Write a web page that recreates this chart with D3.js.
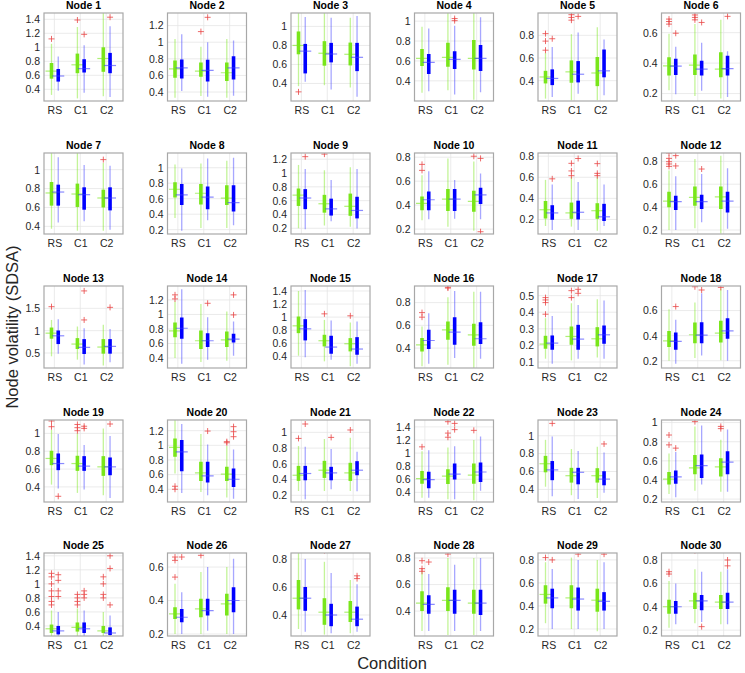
<!DOCTYPE html>
<html><head><meta charset="utf-8">
<script src="https://cdn.jsdelivr.net/npm/d3@7"></script>
<style>body{margin:0;background:#fff} text{font-family:"Liberation Sans",Arial,Helvetica,sans-serif}</style>
</head><body><svg id="c" width="745" height="673"></svg>
<script>
const conditions = ["RS","C1","C2"];
const nodeNames = d3.range(1,31).map(i=>"Node "+i);
const yDomains = [
 [0.233,1.49],[0.292,1.352],[0.216,1.141],[0.197,1.082],[0.221,0.997],[0.151,0.729],
 [0.319,1.176],[0.144,1.19],[0.117,1.29],[0.159,0.835],[0.062,0.83],[0.165,0.873],
 [0.164,2.0],[0.263,1.392],[0.222,1.476],[0.225,0.946],[0.064,0.558],[0.142,0.796],
 [0.231,1.15],[0.226,1.346],[0.115,1.157],[0.253,1.505],[0.259,1.176],[0.17,1.027],
 [0.257,1.44],[0.188,0.684],[0.25,0.843],[0.212,0.838],[0.139,0.86],[0.15,0.86]
];
const yTicks = [
 [0.4,0.6,0.8,1,1.2,1.4],[0.4,0.6,0.8,1,1.2],[0.4,0.6,0.8,1],[0.4,0.6,0.8,1],[0.4,0.6,0.8],[0.2,0.4,0.6],
 [0.4,0.6,0.8,1],[0.2,0.4,0.6,0.8,1],[0.2,0.4,0.6,0.8,1,1.2],[0.2,0.4,0.6,0.8],[0.2,0.4,0.6,0.8],[0.2,0.4,0.6,0.8],
 [0.5,1,1.5],[0.4,0.6,0.8,1,1.2],[0.4,0.6,0.8,1,1.2,1.4],[0.4,0.6,0.8],[0.1,0.2,0.3,0.4,0.5],[0.2,0.4,0.6],
 [0.4,0.6,0.8,1],[0.4,0.6,0.8,1,1.2],[0.2,0.4,0.6,0.8,1],[0.4,0.6,0.8,1,1.2,1.4],[0.4,0.6,0.8,1],[0.2,0.4,0.6,0.8,1],
 [0.4,0.6,0.8,1,1.2,1.4],[0.2,0.4,0.6],[0.4,0.6,0.8],[0.4,0.6,0.8],[0.2,0.4,0.6,0.8],[0.2,0.4,0.6,0.8]
];
// [whisker low, q1, median, q3, whisker high] for RS, C1, C2
const greenStats = [
 [[0.32,0.552,0.66,0.776,1.05],[0.27,0.63,0.75,0.91,1.29],[0.30,0.65,0.84,1.0,1.5]],
 [[0.332,0.572,0.68,0.78,1.04],[0.352,0.584,0.652,0.756,0.944],[0.332,0.532,0.632,0.756,1.04]],
 [[0.372,0.707,0.80,0.947,1.16],[0.382,0.587,0.718,0.845,1.16],[0.357,0.59,0.707,0.83,1.09]],
 [[0.279,0.548,0.625,0.72,0.944],[0.305,0.541,0.635,0.784,1.1],[0.21,0.515,0.625,0.81,1.1]],
 [[0.242,0.376,0.433,0.487,0.645],[0.227,0.382,0.478,0.579,0.81],[0.227,0.352,0.468,0.609,0.872]],
 [[0.222,0.318,0.382,0.438,0.593],[0.184,0.322,0.387,0.456,0.656],[0.167,0.307,0.36,0.471,0.684]],
 [[0.375,0.619,0.753,0.869,1.2],[0.354,0.605,0.742,0.852,1.2],[0.354,0.6,0.7,0.788,1.07]],
 [[0.35,0.615,0.722,0.812,1.04],[0.22,0.525,0.67,0.79,1.056],[0.22,0.52,0.606,0.773,1.09]],
 [[0.2,0.523,0.68,0.776,1.117],[0.24,0.426,0.555,0.684,1.04],[0.223,0.38,0.518,0.702,1.085]],
 [[0.274,0.358,0.415,0.473,0.65],[0.22,0.35,0.45,0.535,0.79],[0.186,0.345,0.432,0.52,0.765]],
 [[0.138,0.209,0.292,0.375,0.575],[0.132,0.206,0.262,0.36,0.6],[0.092,0.206,0.283,0.354,0.6]],
 [[0.2,0.398,0.453,0.535,0.72],[0.215,0.413,0.485,0.58,0.82],[0.17,0.383,0.49,0.58,0.85]],
 [[0.426,0.82,0.944,1.07,1.24],[0.352,0.589,0.7,0.833,1.093],[0.218,0.485,0.633,0.811,1.13]],
 [[0.4,0.688,0.775,0.889,1.18],[0.345,0.523,0.638,0.779,1.145],[0.363,0.551,0.651,0.766,1.04]],
 [[0.41,0.755,0.867,1.009,1.4],[0.324,0.552,0.639,0.73,0.958],[0.248,0.476,0.593,0.679,0.918]],
 [[0.24,0.371,0.429,0.488,0.59],[0.254,0.473,0.561,0.634,0.847],[0.22,0.42,0.517,0.613,0.896]],
 [[0.12,0.18,0.208,0.258,0.364],[0.11,0.204,0.254,0.314,0.454],[0.128,0.194,0.24,0.31,0.478]],
 [[0.2,0.309,0.359,0.438,0.61],[0.221,0.34,0.407,0.505,0.664],[0.203,0.346,0.42,0.518,0.777]],
 [[0.426,0.644,0.719,0.805,1.04],[0.333,0.58,0.662,0.749,1.0],[0.306,0.524,0.625,0.745,1.056]],
 [[0.615,0.843,0.971,1.095,1.346],[0.363,0.514,0.624,0.775,1.154],[0.286,0.514,0.606,0.706,0.99]],
 [[0.255,0.383,0.455,0.574,0.826],[0.255,0.421,0.519,0.638,0.915],[0.255,0.383,0.485,0.613,0.93]],
 [[0.316,0.532,0.611,0.726,1.026],[0.295,0.526,0.647,0.753,1.084],[0.279,0.532,0.663,0.842,1.2]],
 [[0.43,0.591,0.687,0.775,0.954],[0.335,0.476,0.553,0.641,0.851],[0.305,0.476,0.553,0.637,0.878]],
 [[0.253,0.353,0.41,0.483,0.677],[0.287,0.46,0.527,0.66,0.96],[0.277,0.437,0.537,0.627,0.82]],
 [[0.22,0.3,0.36,0.42,0.62],[0.24,0.32,0.38,0.45,0.65],[0.22,0.3,0.33,0.4,0.6]],
 [[0.2,0.29,0.32,0.36,0.5],[0.2,0.3,0.35,0.41,0.57],[0.2,0.31,0.38,0.44,0.6]],
 [[0.3,0.44,0.52,0.65,0.85],[0.26,0.33,0.42,0.52,0.78],[0.27,0.35,0.42,0.5,0.65]],
 [[0.25,0.4,0.46,0.55,0.7],[0.22,0.4,0.48,0.58,0.8],[0.22,0.38,0.46,0.56,0.8]],
 [[0.25,0.42,0.5,0.58,0.78],[0.2,0.38,0.47,0.58,0.82],[0.18,0.35,0.45,0.55,0.8]],
 [[0.22,0.34,0.4,0.46,0.62],[0.26,0.38,0.45,0.52,0.72],[0.25,0.38,0.44,0.5,0.7]]
];
const blueStats = [
 [[0.38,0.51,0.59,0.69,0.87],[0.35,0.64,0.695,0.83,1.03],[0.29,0.63,0.74,0.92,1.3]],
 [[0.412,0.564,0.69,0.792,1.096],[0.344,0.528,0.66,0.788,1.0],[0.356,0.552,0.69,0.832,1.02]],
 [[0.418,0.506,0.74,0.816,1.1],[0.336,0.622,0.71,0.827,1.09],[0.26,0.53,0.675,0.827,1.11]],
 [[0.295,0.469,0.585,0.669,0.925],[0.262,0.518,0.615,0.698,0.954],[0.285,0.498,0.625,0.76,1.04]],
 [[0.257,0.361,0.42,0.50,0.698],[0.286,0.385,0.457,0.573,0.824],[0.272,0.43,0.487,0.675,0.764]],
 [[0.196,0.322,0.38,0.429,0.507],[0.218,0.318,0.36,0.416,0.533],[0.178,0.318,0.364,0.449,0.478]],
 [[0.44,0.619,0.763,0.841,1.13],[0.453,0.576,0.735,0.813,1.05],[0.365,0.569,0.7,0.813,1.04]],
 [[0.187,0.517,0.65,0.79,0.99],[0.32,0.465,0.62,0.756,1.12],[0.256,0.435,0.55,0.773,1.13]],
 [[0.186,0.477,0.638,0.767,1.06],[0.3,0.384,0.481,0.629,0.9],[0.195,0.343,0.458,0.656,1.06]],
 [[0.282,0.358,0.445,0.514,0.683],[0.287,0.35,0.45,0.535,0.61],[0.282,0.41,0.486,0.546,0.664]],
 [[0.1,0.197,0.262,0.335,0.532],[0.1,0.2,0.268,0.378,0.554],[0.138,0.185,0.225,0.348,0.532]],
 [[0.2,0.375,0.448,0.5,0.669],[0.267,0.383,0.448,0.509,0.69],[0.21,0.354,0.453,0.535,0.74]],
 [[0.485,0.7,0.885,1.004,1.256],[0.24,0.478,0.626,0.811,1.056],[0.293,0.485,0.648,0.811,1.04]],
 [[0.322,0.665,0.81,0.958,1.346],[0.377,0.551,0.638,0.743,0.962],[0.432,0.615,0.66,0.734,0.903]],
 [[0.385,0.644,0.821,0.969,1.415],[0.349,0.44,0.542,0.715,0.948],[0.288,0.425,0.512,0.694,0.933]],
 [[0.263,0.391,0.467,0.561,0.707],[0.312,0.429,0.54,0.672,0.902],[0.307,0.435,0.482,0.628,0.896]],
 [[0.09,0.174,0.214,0.26,0.378],[0.12,0.174,0.238,0.324,0.444],[0.12,0.21,0.264,0.32,0.47]],
 [[0.176,0.287,0.354,0.425,0.526],[0.242,0.34,0.404,0.507,0.738],[0.2,0.375,0.438,0.539,0.764]],
 [[0.381,0.588,0.662,0.775,0.993],[0.37,0.58,0.633,0.745,0.869],[0.276,0.531,0.625,0.73,0.97]],
 [[0.35,0.647,0.912,1.072,1.29],[0.318,0.491,0.583,0.775,1.013],[0.272,0.432,0.537,0.683,0.944]],
 [[0.149,0.391,0.477,0.574,0.817],[0.277,0.391,0.485,0.562,0.787],[0.251,0.455,0.519,0.634,0.753]],
 [[0.316,0.463,0.595,0.716,1.042],[0.295,0.595,0.679,0.842,1.105],[0.426,0.558,0.711,0.858,1.253]],
 [[0.324,0.503,0.618,0.717,0.992],[0.293,0.457,0.591,0.641,0.828],[0.362,0.446,0.515,0.603,0.813]],
 [[0.22,0.36,0.433,0.5,0.693],[0.353,0.42,0.55,0.667,0.97],[0.277,0.46,0.587,0.7,0.927]],
 [[0.2,0.28,0.33,0.4,0.6],[0.22,0.3,0.36,0.45,0.62],[0.2,0.27,0.3,0.38,0.55]],
 [[0.2,0.27,0.3,0.35,0.45],[0.22,0.31,0.34,0.41,0.6],[0.2,0.33,0.4,0.48,0.65]],
 [[0.28,0.43,0.52,0.6,0.8],[0.27,0.32,0.4,0.48,0.7],[0.28,0.32,0.37,0.46,0.62]],
 [[0.25,0.38,0.45,0.52,0.68],[0.25,0.38,0.48,0.56,0.75],[0.25,0.37,0.46,0.56,0.8]],
 [[0.2,0.38,0.47,0.55,0.72],[0.2,0.36,0.46,0.56,0.8],[0.2,0.36,0.44,0.52,0.78]],
 [[0.25,0.34,0.4,0.45,0.6],[0.27,0.37,0.45,0.5,0.7],[0.25,0.38,0.44,0.52,0.72]]
];
const greenOutliers = [
 [[1.12],[1.39],[]],[[],[1.128],[]],[[0.312],[],[]],[[],[],[]],[[0.815,0.749,0.669],[0.982,0.958,0.934],[]],[[0.689,0.673,0.656],[0.716,0.7,0.684],[]],
 [[],[],[1.106]],[[],[],[]],[[],[1.274],[]],[[0.74,0.69],[],[0.808]],[[],[0.732,0.66,0.615],[0.729,0.637,0.615]],[[0.873,0.826,0.797,0.777,0.756],[],[]],
 [[1.537],[],[]],[[1.27,1.214],[],[]],[[],[1.05],[1.02]],[[0.712,0.672],[0.935,0.928],[]],[[0.488,0.474,0.458,0.388],[0.53,0.488],[]],[[],[0.79],[0.785]],
 [[1.139,1.075],[1.1,1.064,1.03],[]],[[0.441,0.4],[],[1.05,1.035]],[[0.923],[],[1.03]],[[1.095],[1.479,1.305,1.242],[1.347]],[[],[],[]],[[0.87,0.767],[1.01],[0.96,0.937]],
 [[1.15,1.1,1.0,0.9,0.82,0.75,0.7],[0.85,0.8,0.75,0.7],[1.1,1.0,0.85,0.8]],[[0.66,0.64,0.54],[0.67],[]],[[],[0.86,0.87],[]],[[0.78,0.72,0.7],[0.83],[]],[[0.82],[],[]],[[0.7,0.68],[0.88],[]]
];
const blueOutliers = [
 [[],[1.185],[1.43]],[[],[1.3],[]],[[],[],[]],[[],[1.026,1.005],[]],[[0.77],[0.967],[]],[[0.596],[0.667],[0.707]],
 [[],[],[]],[[],[],[]],[[1.237],[],[]],[[],[],[0.79,0.178]],[[0.585],[0.778],[]],[[0.85,0.76],[0.733],[]],
 [[],[1.89,1.24],[1.522]],[[],[1.154],[1.27,0.994]],[[],[],[]],[[],[],[]],[[],[0.538,0.514],[]],[[0.632],[0.764],[]],
 [[0.295],[1.08,1.056],[1.105]],[[],[1.195],[1.255,1.186,1.118]],[[1.106],[0.936],[]],[[],[1.453,1.358],[]],[[1.138],[],[0.908]],[[0.733],[],[]],
 [[1.13,1.05,0.9,0.82],[0.9,0.85,0.8],[1.4,1.22,0.7]],[[0.66],[],[]],[[],[0.88],[0.68,0.66]],[[0.77],[],[]],[[0.8],[0.85],[0.85]],[[],[0.23],[0.8,0.75]]
];

// ---- layout ----
const colLeft = [44,167.5,291,414.5,538,661.5];
const rowTop = [13,153,286,420,553];
const rowBottom = [101,234,368,502,636];
const W = 79;
const series = [
  {stats: greenStats, out: greenOutliers, off: -0.11, box: "#79e61a", thin: "rgba(121,230,26,0.45)", med: "rgba(121,230,26,0.6)"},
  {stats: blueStats, out: blueOutliers, off: 0.15, box: "#0000ff", thin: "rgba(60,60,255,0.45)", med: "rgba(60,60,255,0.6)"}
];
const svg = d3.select("#c");

nodeNames.forEach((name, i) => {
  const r = Math.floor(i/6), c = i%6;
  const H = rowBottom[r]-rowTop[r];
  const g = svg.append("g").attr("transform", `translate(${colLeft[c]},${rowTop[r]})`);
  const x = d3.scaleLinear().domain([0.6,3.65]).range([0,W]);
  const y = d3.scaleLinear().domain(yDomains[i]).range([H,0]);
  const cid = "clip"+i;
  g.append("clipPath").attr("id",cid).append("rect").attr("width",W).attr("height",H);
  const grid = g.append("g").attr("stroke","#e6e6e6").attr("stroke-width",0.8);
  yTicks[i].forEach(t => grid.append("line").attr("x1",0).attr("x2",W).attr("y1",y(t)).attr("y2",y(t)));
  [1,2,3].forEach(t => grid.append("line").attr("x1",x(t)).attr("x2",x(t)).attr("y1",0).attr("y2",H));
  const p = g.append("g").attr("clip-path",`url(#${cid})`);
  series.forEach(s => {
    s.stats[i].forEach((st, k) => {
      const cx = x(k+1+s.off);
      const [lo,q1,md,q3,hi] = st;
      p.append("line").attr("x1",cx).attr("x2",cx).attr("y1",y(lo)).attr("y2",y(hi))
        .attr("stroke",s.thin).attr("stroke-width",1.3);
      p.append("line").attr("x1",cx).attr("x2",cx).attr("y1",y(q1)).attr("y2",y(q3))
        .attr("stroke",s.box).attr("stroke-width",3.6);
      p.append("line").attr("x1",cx-6).attr("x2",cx+6).attr("y1",y(md)).attr("y2",y(md))
        .attr("stroke",s.med).attr("stroke-width",1.2);
      s.out[i][k].forEach(v => {
        const yy = y(v);
        p.append("path").attr("d",`M${cx-3},${yy}h6M${cx},${yy-3}v6`)
          .attr("stroke","rgba(232,70,70,0.8)").attr("stroke-width",1).attr("fill","none");
      });
    });
  });
  g.append("rect").attr("width",W).attr("height",H).attr("fill","none")
    .attr("stroke","#a8a8a8").attr("stroke-width",1.2);
  const ya = g.append("g").call(d3.axisLeft(y).tickValues(yTicks[i]).tickSize(0).tickPadding(4).tickFormat(d3.format("~g")));
  ya.select(".domain").remove();
  ya.selectAll("text").attr("font-size",10.5).attr("fill","#262626").style("font-family",'"Liberation Sans",Arial,sans-serif');
  const xa = g.append("g").attr("transform",`translate(0,${H})`)
    .call(d3.axisBottom(x).tickValues([1,2,3]).tickSize(0).tickPadding(6).tickFormat(d=>conditions[d-1]));
  xa.select(".domain").remove();
  xa.selectAll("text").attr("font-size",10.5).attr("fill","#262626").style("font-family",'"Liberation Sans",Arial,sans-serif');
  g.append("text").attr("x",W/2).attr("y",-4).attr("text-anchor","middle")
    .attr("font-size",10.5).attr("font-weight","bold").attr("fill","#000").text(name);
});

svg.append("text").attr("x",392).attr("y",669).attr("text-anchor","middle")
  .attr("font-size",16.5).attr("fill","#262626").text("Condition");
svg.append("text").attr("transform","translate(18,327) rotate(-90)").attr("text-anchor","middle")
  .attr("font-size",16.5).attr("fill","#262626").text("Node volatility (SDSA)");
</script></body></html>
